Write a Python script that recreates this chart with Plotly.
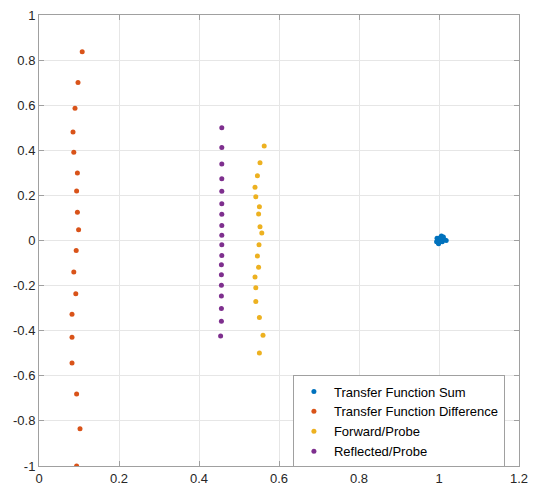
import plotly.graph_objects as go

# Transfer Function Sum (cluster near 1,0)
sum_x = [1.000, 0.995, 1.005, 1.010, 0.998, 1.002, 1.008, 0.996, 1.003, 1.014, 0.999, 1.006, 0.997, 1.001, 1.004, 1.018, 0.994, 1.011]
sum_y = [0.000, 0.010, 0.015, 0.005, -0.010, 0.008, -0.005, 0.000, 0.012, 0.003, -0.014, 0.020, 0.004, -0.003, 0.009, 0.000, -0.006, 0.016]

# Transfer Function Difference
diff_x = [0.108, 0.0975, 0.090, 0.085, 0.087, 0.096, 0.094, 0.096, 0.099, 0.093,
          0.087, 0.092, 0.0825, 0.0825, 0.0825, 0.094, 0.1025, 0.094]
diff_y = [0.837, 0.701, 0.586, 0.481, 0.391, 0.299, 0.220, 0.125, 0.048, -0.044,
          -0.140, -0.236, -0.327, -0.429, -0.543, -0.681, -0.835, -1.000]

# Forward/Probe
fwd_x = [0.563, 0.5525, 0.546, 0.540, 0.542, 0.551, 0.549, 0.5525, 0.557, 0.550,
         0.546, 0.549, 0.540, 0.542, 0.542, 0.551, 0.560, 0.551]
fwd_y = [0.419, 0.345, 0.287, 0.236, 0.194, 0.150, 0.117, 0.061, 0.033, -0.019,
         -0.069, -0.119, -0.162, -0.209, -0.270, -0.341, -0.420, -0.499]

# Reflected/Probe
ref_x = [0.457, 0.457, 0.457, 0.457, 0.457, 0.457, 0.457, 0.457, 0.457, 0.457,
         0.457, 0.456, 0.456, 0.456, 0.456, 0.456, 0.456, 0.454]
ref_y = [0.500, 0.412, 0.339, 0.274, 0.218, 0.163, 0.116, 0.067, 0.023, -0.019,
         -0.066, -0.107, -0.152, -0.199, -0.246, -0.302, -0.358, -0.423]

x_ticks = [0, 0.2, 0.4, 0.6, 0.8, 1, 1.2]
x_ticklabels = ["0", "0.2", "0.4", "0.6", "0.8", "1", "1.2"]
y_ticks = [-1, -0.8, -0.6, -0.4, -0.2, 0, 0.2, 0.4, 0.6, 0.8, 1]
y_ticklabels = ["-1", "-0.8", "-0.6", "-0.4", "-0.2", "0", "0.2", "0.4", "0.6", "0.8", "1"]

series = [
    ("Transfer Function Sum", sum_x, sum_y, "#0072BD"),
    ("Transfer Function Difference", diff_x, diff_y, "#D95319"),
    ("Forward/Probe", fwd_x, fwd_y, "#EDB120"),
    ("Reflected/Probe", ref_x, ref_y, "#7E2F8E"),
]

fig = go.Figure()
for name, xs, ys, col in series:
    fig.add_trace(go.Scatter(x=xs, y=ys, mode="markers", name=name,
                             marker=dict(color=col, size=5, line=dict(width=0)),
                             cliponaxis=True))

axis_common = dict(
    showgrid=True, gridcolor="#e6e6e6", gridwidth=1,
    zeroline=False, showline=True, linecolor="#a0a0a0", linewidth=1,
    mirror="allticks", ticks="inside", ticklen=5, tickcolor="#a0a0a0",
    automargin=False,
    tickfont=dict(family="Liberation Sans, Arial, sans-serif", size=13, color="#262626"),
)

fig.update_layout(
    width=534, height=489,
    margin=dict(l=39, r=15, t=15, b=23, autoexpand=False),
    paper_bgcolor="white", plot_bgcolor="white",
    xaxis=dict(range=[0, 1.2], tickvals=x_ticks, ticktext=x_ticklabels, **axis_common),
    yaxis=dict(range=[-1, 1], tickvals=y_ticks, ticktext=y_ticklabels, **axis_common),
    legend=dict(x=0.529, y=0.0987, xanchor="left", yanchor="middle",
                bgcolor="white", bordercolor="#a0a0a0", borderwidth=1,
                font=dict(family="Liberation Sans, Arial, sans-serif", size=13, color="#000000"),
                tracegroupgap=0, itemwidth=30),
    showlegend=True,
)

fig.write_html("out.html")
